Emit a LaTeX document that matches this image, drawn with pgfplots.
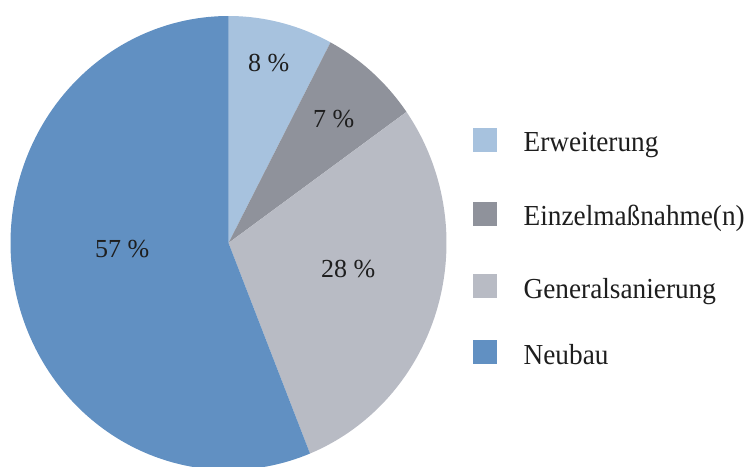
\documentclass[border=0pt]{standalone}
\usepackage{pgfplots}
\pgfplotsset{compat=1.18}
\usepackage{pgfplotstable}
\usepackage{fontspec}
\setmainfont{Liberation Serif}
\newfontfamily\legfont{Liberation Serif}[FakeStretch=0.94]
\definecolor{cErw}{HTML}{A7C2DE}
\definecolor{cEin}{HTML}{8F929B}
\definecolor{cGen}{HTML}{B8BBC4}
\definecolor{cNeu}{HTML}{6190C2}
\definecolor{txt}{HTML}{1E1E1E}
\pgfplotstableread{
name value
Erweiterung 7.75
Einzel 7.45
General 28.7
Neubau 56.1
}\piedata
\begin{document}
\begin{tikzpicture}
\pgfplotstablegetelem{0}{value}\of\piedata \let\vA\pgfplotsretval
\pgfplotstablegetelem{1}{value}\of\piedata \let\vB\pgfplotsretval
\pgfplotstablegetelem{2}{value}\of\piedata \let\vC\pgfplotsretval
\pgfplotstablegetelem{3}{value}\of\piedata \let\vD\pgfplotsretval
\pgfmathsetmacro\aA{90}
\pgfmathsetmacro\aB{90-3.6*\vA}
\pgfmathsetmacro\aC{\aB-3.6*\vB}
\pgfmathsetmacro\aD{\aC-3.6*\vC}
\pgfmathsetmacro\aE{\aD-3.6*\vD}
\begin{axis}[at={(0,0)}, anchor=south west, width=746pt, height=466pt, scale only axis,
  xmin=0, xmax=746, ymin=0, ymax=466, hide axis, clip=true]
\addplot[fill=cErw, draw=none, domain=\aB:\aA, samples=60] ({228.5+218*cos(x)},{223+227*sin(x)}) -- (axis cs:228.5,223) -- cycle;
\addplot[fill=cEin, draw=none, domain=\aC:\aB, samples=60] ({228.5+218*cos(x)},{223+227*sin(x)}) -- (axis cs:228.5,223) -- cycle;
\addplot[fill=cGen, draw=none, domain=\aD:\aC, samples=100] ({228.5+218*cos(x)},{223+227*sin(x)}) -- (axis cs:228.5,223) -- cycle;
\addplot[fill=cNeu, draw=none, domain=\aE:\aD, samples=150] ({228.5+218*cos(x)},{223+227*sin(x)}) -- (axis cs:228.5,223) -- cycle;
% slice labels
\node[anchor=base west, inner sep=0pt, text=txt, font=\fontsize{26}{30}\selectfont] at (axis cs:248,394) {8 \%};
\node[anchor=base west, inner sep=0pt, text=txt, font=\fontsize{26}{30}\selectfont] at (axis cs:313,338) {7 \%};
\node[anchor=base west, inner sep=0pt, text=txt, font=\fontsize{26}{30}\selectfont] at (axis cs:95,208) {57 \%};
\node[anchor=base west, inner sep=0pt, text=txt, font=\fontsize{26}{30}\selectfont] at (axis cs:321,188) {28 \%};
% legend
\fill[cErw] (axis cs:472.5,314) rectangle (axis cs:496.5,338);
\fill[cEin] (axis cs:472.5,240) rectangle (axis cs:496.5,264);
\fill[cGen] (axis cs:472.5,168) rectangle (axis cs:496.5,192);
\fill[cNeu] (axis cs:472.5,102) rectangle (axis cs:496.5,126);
\node[anchor=base west, inner sep=0pt, text=txt, font=\legfont\fontsize{29}{34}\selectfont] at (axis cs:523.5,314) {Erweiterung};
\node[anchor=base west, inner sep=0pt, text=txt, font=\legfont\fontsize{29}{34}\selectfont] at (axis cs:523.5,240) {Einzelmaßnahme(n)};
\node[anchor=base west, inner sep=0pt, text=txt, font=\legfont\fontsize{29}{34}\selectfont] at (axis cs:523.5,168) {Generalsanierung};
\node[anchor=base west, inner sep=0pt, text=txt, font=\legfont\fontsize{29}{34}\selectfont] at (axis cs:523.5,102) {Neubau};
\end{axis}
\pgfresetboundingbox
\useasboundingbox (0,0) rectangle (746pt,466pt);
\end{tikzpicture}
\end{document}
